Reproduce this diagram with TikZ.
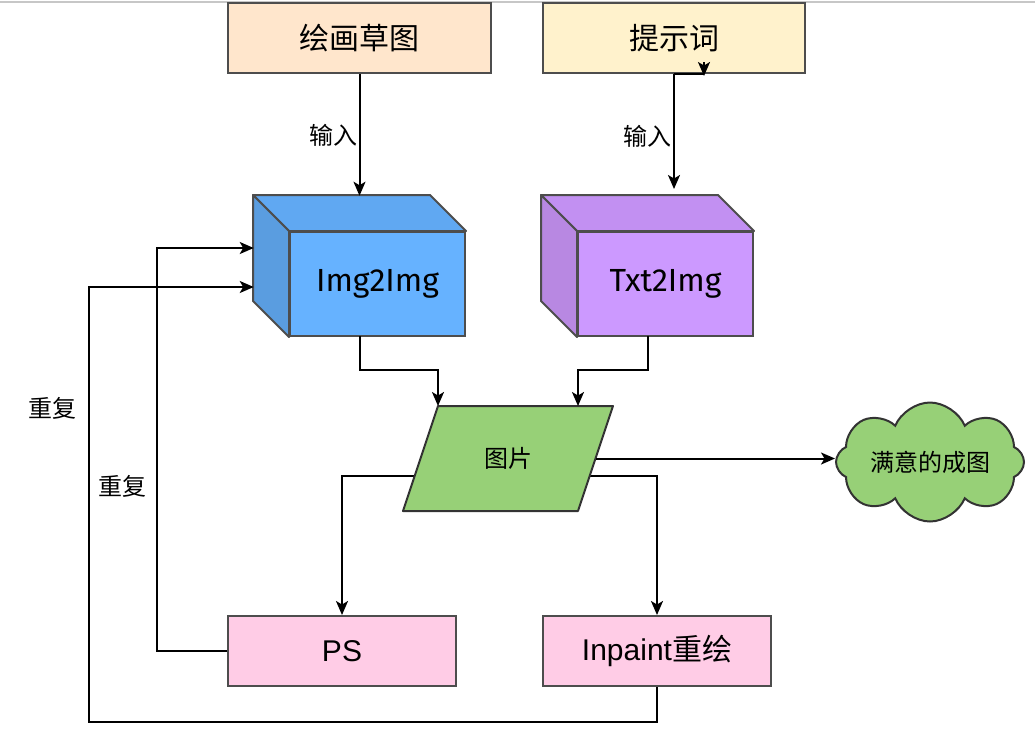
\documentclass[tikz,border=0pt]{standalone}
\usepackage{fontspec}
\setmainfont{Liberation Sans}
\newfontfamily\cjk{Noto Sans CJK SC}
\newfontfamily\comicf{Fira Sans}
\usetikzlibrary{shapes.geometric,shapes.symbols,arrows.meta,calc,backgrounds}
\def\u{0.75pt}
\definecolor{bline}{HTML}{4D4D4D}
\definecolor{sketchfill}{HTML}{FFE6CC}
\definecolor{promptfill}{HTML}{FFF2CC}
\definecolor{pinkfill}{HTML}{FFCCE6}
\definecolor{greenfill}{HTML}{97D077}
\definecolor{blueF}{HTML}{66B2FF}
\definecolor{blueT}{HTML}{60A8F2}
\definecolor{blueS}{HTML}{5A9DE0}
\definecolor{purF}{HTML}{CC99FF}
\definecolor{purT}{HTML}{C290F2}
\definecolor{purS}{HTML}{B888E2}
\begin{document}
\begin{tikzpicture}[x=0.75pt,y=-0.75pt,
  box/.style={draw=bline, line width=2*\u, inner sep=0pt, minimum height=70*\u},
  big/.style={font=\fontsize{22.5}{27}\selectfont},
  small/.style={font=\cjk\fontsize{18}{22}\selectfont},
  face/.style={draw=bline, line width=2*\u, line join=round},
  conn/.style={draw=black, line width=2*\u},
  arr/.style={conn, -{Stealth[length=14*\u, width=12*\u, inset=3.5*\u]}},
  lbl/.style={small, inner sep=1pt},
  cubetext/.style={font=\comicf\fontsize{24}{28}\selectfont}
]
\useasboundingbox (0,0) rectangle (1035,744);
\draw[black!22, line width=1.5*\u] (0,2) -- (1035,2);

% top boxes
\node[box, big, fill=sketchfill, minimum width=263*\u] (sketch) at (359.5,38) {\cjk 绘画草图};
\node[box, big, fill=promptfill, minimum width=262*\u] (prompt) at (674,38) {\cjk 提示词};

% cubes (bounding nodes)
\node[inner sep=0pt, minimum width=211*\u, minimum height=140*\u] (img) at (359.5,266) {};
\node[inner sep=0pt, minimum width=211*\u, minimum height=140*\u] (txt) at (647.5,266) {};
\node[inner sep=0pt, minimum width=175*\u, minimum height=104*\u, fill=blueF, draw=bline, line width=2*\u,
      cubetext] (imgf) at (377.5,284) {Img2Img};
\node[inner sep=0pt, minimum width=175*\u, minimum height=104*\u, fill=purF, draw=bline, line width=2*\u,
      cubetext] (txtf) at (665.5,284) {Txt2Img};
\filldraw[face, fill=blueT] (imgf.north west) -- (imgf.north east) -- ++(-36,-36) -- ($(imgf.north west)+(-36,-36)$) -- cycle;
\filldraw[face, fill=blueS] (imgf.north west) -- (imgf.south west) -- ++(-36,-36) -- ($(imgf.north west)+(-36,-36)$) -- cycle;
\filldraw[face, fill=purT] (txtf.north west) -- (txtf.north east) -- ++(-36,-36) -- ($(txtf.north west)+(-36,-36)$) -- cycle;
\filldraw[face, fill=purS] (txtf.north west) -- (txtf.south west) -- ++(-36,-36) -- ($(txtf.north west)+(-36,-36)$) -- cycle;

% picture parallelogram
\coordinate (pc) at (508,458.5);
\coordinate (ptl) at ($(pc)+(-70,-52.5)$);
\coordinate (ptr) at ($(pc)+(105,-52.5)$);
\coordinate (pbr) at ($(pc)+(70,52.5)$);
\coordinate (pbl) at ($(pc)+(-105,52.5)$);
\filldraw[draw=black!80, line width=2*\u, fill=greenfill, line join=round] (ptl) -- (ptr) -- (pbr) -- (pbl) -- cycle;
\node[small, inner sep=0pt] (pic) at (pc) {图片};
\coordinate (pe) at ($(pc)+(88,0)$);

% cloud
\node[cloud, cloud puffs=8, cloud puff arc=135, cloud ignores aspect, minimum width=188*\u, minimum height=119*\u,
      inner sep=0pt, draw=black!80, line width=2*\u, fill=greenfill, small] (cloud) at (930,462) {满意的成图};

% bottom boxes
\node[box, big, fill=pinkfill, minimum width=228*\u] (ps) at (342,651) {PS};
\node[box, big, fill=pinkfill, minimum width=228*\u] (inp) at (657,651) {Inpaint{\cjk 重绘}};

% connectors
\draw[arr] (sketch.south) -- (img.north) node[lbl, pos=0.504, anchor=east] (in1) {输入};
\draw[arr] (prompt.south) -- ++(0,115) node[lbl, pos=0.54, anchor=east] (in2) {输入};
\draw[conn] (prompt.south) -- ++(30,0);
\draw[arr] ($(prompt.south)+(30,-12)$) -- ($(prompt.south)+(30,2)$);

\draw[arr] (img.south) -- ++(0,34) -| (ptl);
\draw[arr] (txt.south) -- ++(0,34) -| ($(ptl)+(140,0)$);
\draw[arr] (pe) -- (pe -| cloud.west);
\begin{scope}[on background layer]
\draw[arr] ($(pc)+(0,17.5)$) -| (ps.north);
\draw[arr] ($(pc)+(0,17.5)$) -| (inp.north);
\end{scope}
\draw[arr] (ps.west) -- ++(-70,0) |- ($(img.west)+(0,-18)$);
\draw[arr] (inp.south) -- ++(0,35) -- ++(-568,0) |- ($(img.west)+(0,21)$);
\node[lbl] (rep1) at (52,408) {重复};
\node[lbl] (rep2) at (122,486) {重复};
\end{tikzpicture}
\end{document}
